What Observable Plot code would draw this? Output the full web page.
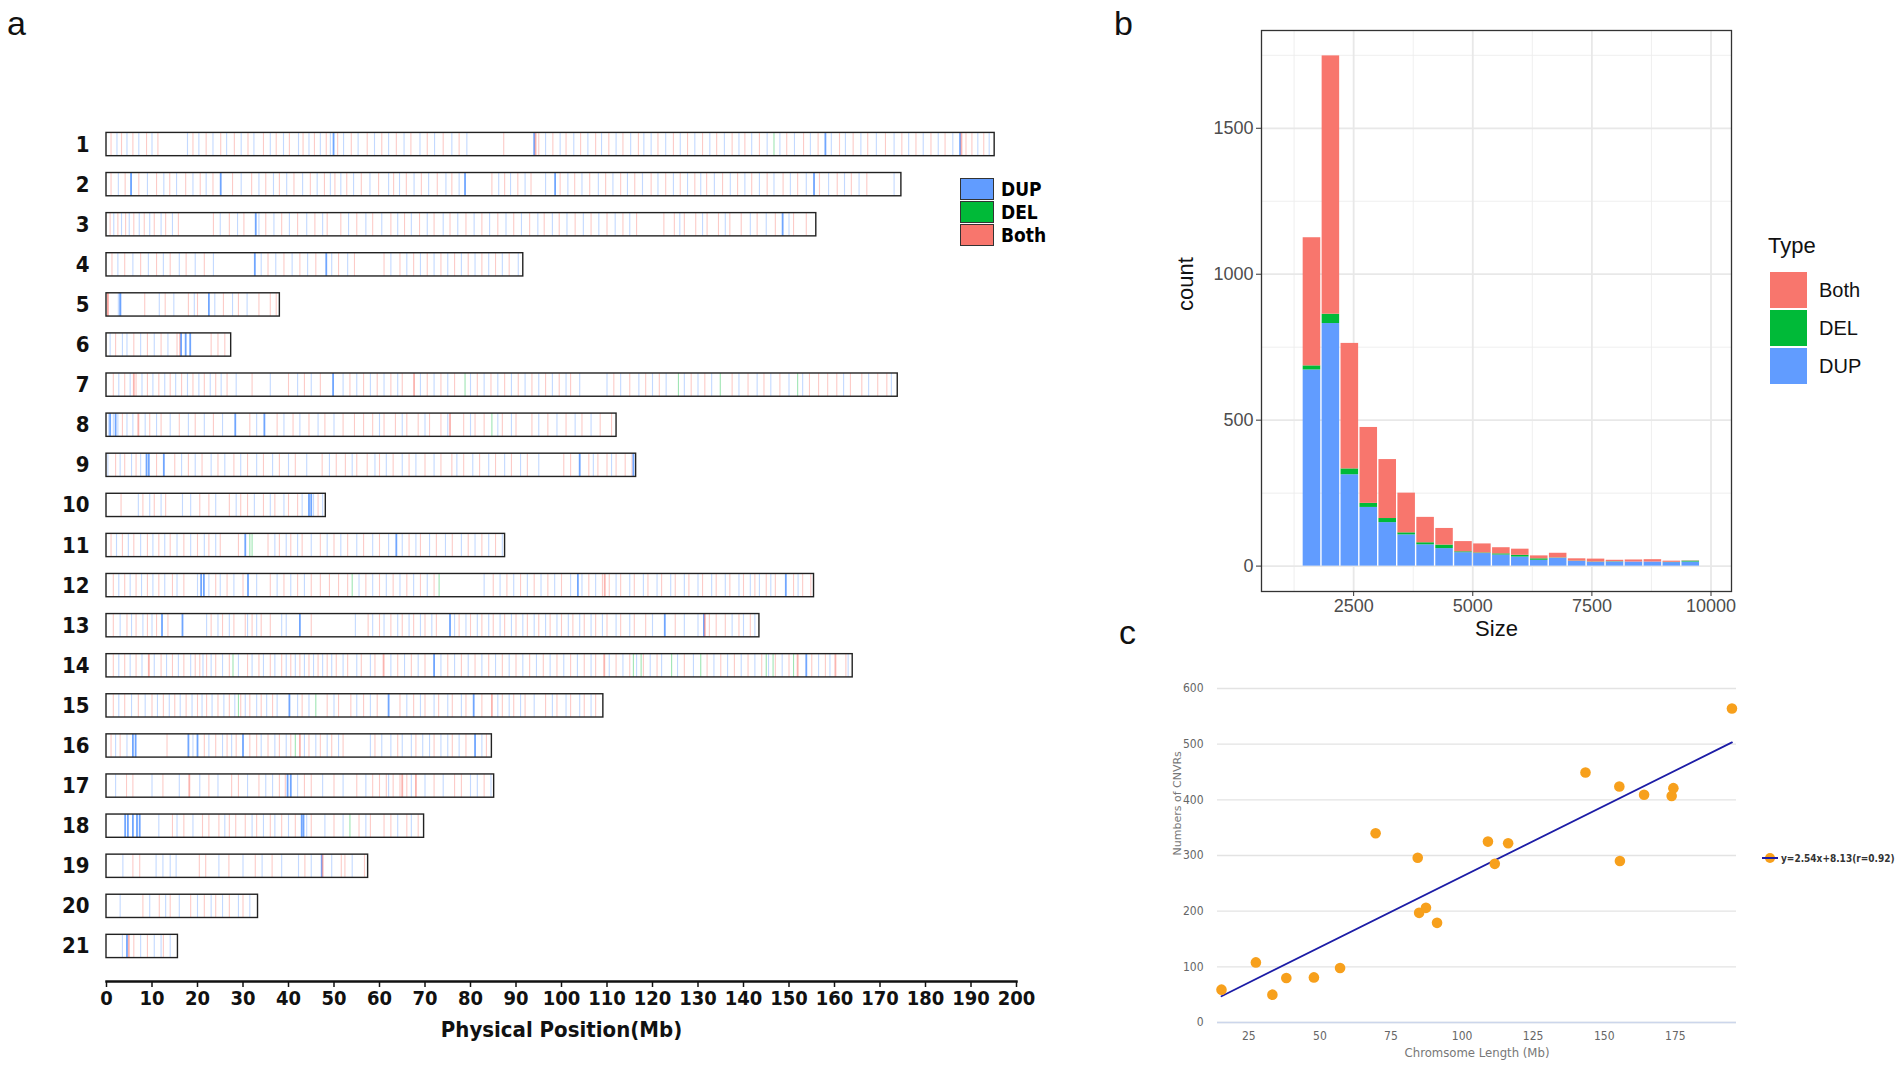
<!DOCTYPE html>
<html>
<head>
<meta charset="utf-8">
<script src="https://cdn.jsdelivr.net/npm/d3@7"></script>
<script src="https://cdn.jsdelivr.net/npm/@observablehq/plot@0.6"></script>
<style>
  body { margin: 0; background: #fff; width: 1902px; height: 1074px; overflow: hidden; position: relative;
         font-family: "Liberation Sans", Arial, sans-serif; }
  .pane { position: absolute; }
  .tag { position: absolute; font-size: 34px; line-height: 34px; color: #111; }
  .lgA { position: absolute; left: 960px; width: 34px; height: 22px; border: 1px solid #333; box-sizing: border-box; }
  .lgAtxt { position: absolute; left: 1001px; font: bold 19px "Liberation Sans Narrow", "DejaVu Sans Condensed", sans-serif; line-height: 22px; }
  .lgB { position: absolute; left: 1770px; width: 37px; height: 36px; }
  .lgBtxt { position: absolute; left: 1819px; font-size: 20px; line-height: 36px; color: #111; }
</style>
</head>
<body>
<div id="panelA" class="pane" style="left:0;top:0"></div>
<div id="panelB" class="pane" style="left:1133px;top:0"></div>
<div id="panelC" class="pane" style="left:1137px;top:656px"></div>
<div class="tag" style="left:7px;top:6px">a</div>
<div class="tag" style="left:1114px;top:6px">b</div>
<div class="tag" style="left:1119px;top:615px">c</div>
<div id="legendA"></div>
<div id="legendB"></div>
<div id="legendC" style="position:absolute;left:1762px;top:851px;display:flex;align-items:center;gap:3px;
     font:bold 10px 'DejaVu Sans Condensed','DejaVu Sans',sans-serif;color:#333;white-space:nowrap"></div>
<script>
// ---------- shared ----------
const typeNames = ["Both", "DEL", "DUP"];
const typeColors = ["#F8766D", "#00BA38", "#619CFF"];
const typeColor = Object.fromEntries(typeNames.map((t, i) => [t, typeColors[i]]));

// ---------- panel a : CNVR map ----------
const chromNames = ["1","2","3","4","5","6","7","8","9","10","11","12","13","14","15","16","17","18","19","20","21"];
const chromLengthMb = [195.2, 174.7, 156.0, 91.6, 38.1, 27.4, 173.9, 112.1, 116.4, 48.2, 87.6,
                       155.5, 143.5, 164.0, 109.2, 84.7, 85.2, 69.8, 57.5, 33.3, 15.7];
const positionTicks = d3.range(0, 201, 10);

// faint stripes, Mb, one list per chromosome
const bothMb = [
  [1.0,3.3,5.8,8.8,11.3,19.0,21.9,25.1,28.1,31.1,34.5,37.3,40.2,43.2,45.7,48.3,50.8,53.8,57.3,60.5,63.7,66.9,70.5,74.0,77.5,87.3,95.0,98.1,101.0,104.2,107.5,110.4,113.5,116.9,121.2,124.6,127.7,131.0,134.1,137.5,140.3,143.5,149.5,153.2,156.4,161.1,164.1,167.3,171.2,174.8,177.9,181.2,184.3,188.9,190.2,192.8],
  [1.0,4.1,7.1,11.0,13.9,17.4,20.6,23.4,27.7,31.9,35.0,38.0,41.2,44.8,47.9,50.2,52.8,56.0,59.8,63.1,65.9,69.2,72.7,75.9,84.7,87.5,90.4,93.3,99.7,102.9,106.2,109.7,113.0,116.1,119.7,122.9,126.1,129.3,131.9,135.4,138.7,141.8,145.2,148.7,151.9,156.7,160.6,163.7,167.1],
  [0.8,2.5,4.2,6.0,8.3,10.5,13.0,15.8,23.5,27.0,30.2,35.0,38.5,42.0,45.8,48.5,51.5,55.0,58.5,62.5,65.5,68.8,72.0,75.5,79.0,82.5,86.0,89.5,93.0,96.2,99.5,103.0,106.5,110.0,113.5,116.5,122.5,124.8,127.0,129.5,132.0,134.5,137.0,139.5,143.0,147.0,151.0,153.8],
  [1.2,4.0,7.5,11.0,14.0,17.5,21.5,35.5,39.0,42.5,46.0,51.0,54.5,61.0,64.5,67.5,70.5,73.5,76.5,79.5,82.5,85.5,88.5],
  [0.3,8.4,12.9,18.0,20.0,25.7,29.0,33.5,36.0,37.3],
  [2.0,6.0,9.0,12.0,15.5,23.0,24.5,26.0],
  [1.5,4.0,6.5,9.0,11.5,14.0,16.5,19.0,21.5,24.0,26.5,32.0,40.0,43.5,47.0,53.5,56.5,59.5,62.5,65.0,70.5,73.5,76.5,81.5,84.5,87.5,90.5,93.5,96.5,99.5,102.0,111.5,115.0,118.5,121.5,128.5,131.5,137.5,141.0,144.5,148.0,154.5,156.5,158.5,160.5,163.5,166.0,169.5,171.5],
  [3.5,9.5,12.0,16.0,19.5,23.5,31.5,37.5,41.0,44.5,48.0,52.0,54.5,56.5,58.5,61.0,63.5,66.0,68.5,71.0,73.5,78.5,81.0,83.0,87.0,90.0,93.5,97.0,101.0,104.5,108.5,111.0],
  [2.0,4.0,6.5,11.0,15.0,18.0,21.0,24.5,28.0,31.0,34.5,38.0,41.5,47.4,50.5,52.5,55.0,57.3,60.0,63.0,66.5,70.0,73.5,75.9,78.5,82.0,85.5,89.0,92.5,100.5,102.0,106.0,108.0,110.0,112.0,114.0,115.5],
  [3.2,8.0,10.5,13.0,20.5,22.5,27.0,29.5,31.0,34.5,37.0,40.0,42.0,46.5],
  [1.0,3.5,6.0,9.0,11.5,14.0,17.0,20.0,22.5,25.0,29.0,35.5,38.0,40.5,43.0,47.0,50.0,53.0,56.5,60.0,66.5,69.0,72.5,76.0,79.5,82.5,85.5],
  [1.5,4.0,6.5,9.0,11.5,14.5,17.0,24.0,26.5,30.0,36.0,39.0,42.0,45.0,47.0,49.0,51.0,53.0,57.0,60.0,63.0,66.0,69.0,72.0,85.0,88.0,91.0,94.0,97.0,100.0,106.0,109.0,110.5,113.0,116.0,119.0,122.0,125.0,128.0,131.0,134.0,137.0,140.0,142.5,145.0,147.0,151.0,153.0,154.8],
  [1.5,4.5,6.5,9.0,11.0,13.5,23.0,25.5,28.0,30.5,32.0,34.0,36.0,45.0,57.5,60.0,62.5,65.0,67.5,70.0,72.5,77.5,80.0,82.5,85.0,87.5,90.0,92.5,95.0,97.5,100.0,102.5,105.0,107.5,110.0,113.0,116.0,118.5,125.0,132.5,134.0,136.0,139.0,141.5],
  [1.5,4.0,6.5,12.0,14.5,17.0,19.5,20.5,22.0,24.0,27.0,31.0,33.5,36.0,38.5,40.5,42.5,44.5,46.5,48.5,50.5,53.0,56.0,59.0,64.0,67.0,70.0,75.0,78.0,81.0,84.0,87.0,90.0,93.0,96.0,99.0,102.0,105.0,107.5,112.0,115.0,118.0,121.0,127.0,132.0,135.0,138.0,141.0,144.0,147.0,150.0,155.0,158.0,162.5],
  [1.5,4.0,7.0,10.0,12.5,15.0,17.5,20.0,22.0,24.5,27.0,29.5,31.5,34.0,36.5,43.0,48.5,51.0,53.7,56.5,59.5,64.5,67.5,70.0,73.0,76.0,79.0,82.5,87.0,89.5,92.0,96.5,99.0,102.0,105.0,107.5],
  [1.0,3.0,13.3,21.5,24.0,26.5,28.5,31.5,33.0,35.5,38.0,40.5,44.5,47.0,49.5,52.0,59.0,64.0,68.0,72.0,76.0,79.0,83.5],
  [4.4,5.8,12.4,22.5,27.5,29.0,33.5,38.0,39.3,43.5,45.0,50.0,55.0,58.5,60.0,61.5,63.0,64.5,66.0,72.0,76.5,78.0,83.0],
  [14.5,17.0,21.1,22.5,24.7,27.0,28.4,30.5,33.0,36.0,38.5,41.5,45.0,50.0,55.5,58.0,61.0,62.5,66.0,68.5],
  [5.8,7.3,20.4,21.8,26.9,32.7,36.4,43.6,51.6,52.4,56.7],
  [8.0,11.6,14.0,18.5,21.5,24.0,27.0,30.0],
  [6.0,9.0,12.5]
];
const dupMb = [
  [2.3,4.5,7.1,10.0,17.8,20.3,23.4,26.4,29.6,32.4,36.0,38.9,42.2,44.5,47.0,49.2,52.1,55.3,58.9,62.0,65.4,68.9,72.1,75.9,79.2,96.5,99.7,102.7,105.8,108.8,112.0,115.2,118.1,119.7,122.9,126.1,129.3,132.6,135.8,139.0,141.8,145.2,148.0,151.2,154.7,159.3,162.4,165.8,169.2,173.1,176.3,179.5,182.8,186.0,191.5,194.0],
  [2.6,5.4,9.0,12.6,15.4,19.0,21.9,29.6,33.5,36.7,39.6,43.1,46.3,49.2,51.5,54.3,57.9,62.0,64.4,67.6,70.8,74.6,77.5,86.2,88.8,92.0,96.5,101.4,104.5,108.1,111.3,114.5,117.8,121.2,124.6,127.7,130.6,133.6,137.1,140.3,143.5,146.7,150.3,153.8,158.7,162.2,165.4,173.1],
  [1.6,3.3,5.0,7.2,9.5,12.0,14.5,25.0,28.8,33.5,36.8,40.2,44.0,47.5,53.2,57.0,60.5,64.0,67.0,70.5,74.0,77.2,80.8,84.2,87.8,91.2,94.8,98.0,101.2,104.8,108.2,111.8,115.0,126.0,131.0,136.0,141.5,145.0,150.0],
  [2.5,5.8,9.2,12.5,16.0,19.5,23.5,34.0,37.2,40.8,44.2,49.5,53.0,62.5,66.0,69.0,72.0,75.0,78.0,81.0,84.0,87.0,90.5],
  [2.6,3.2,11.6,14.8,19.3,23.8,27.7,30.9],
  [0.8,3.5,4.5,7.5,10.5,13.5],
  [2.7,5.2,7.8,10.2,12.8,15.2,17.8,20.3,22.8,25.2,28.5,36.0,42.0,45.0,52.0,55.0,58.0,61.0,64.0,69.0,72.0,75.0,80.0,83.0,86.0,89.0,92.0,95.0,98.0,101.0,104.0,110.0,113.0,117.0,120.0,123.0,127.0,130.0,133.0,139.0,143.0,146.0,150.0,153.0,162.0,167.5,172.5],
  [0.5,1.5,2.5,4.5,5.8,8.5,11.0,14.0,18.0,21.5,25.5,33.0,39.0,42.5,46.5,50.0,60.0,65.0,70.0,75.0,80.0,86.0,89.0,95.0,99.0,103.0,106.5],
  [0.3,3.0,5.5,7.5,16.5,19.5,23.0,26.0,29.5,33.0,36.5,40.0,44.0,49.0,54.0,59.0,61.5,65.0,68.0,72.0,77.0,80.5,84.0,87.5,91.0,95.0,107.0,111.0],
  [7.0,9.5,12.0,16.7,18.5,24.0,28.5,32.5,36.0,39.0,43.0,45.5,47.5],
  [2.2,4.8,7.5,10.2,12.8,15.5,18.5,21.5,24.0,37.0,39.5,42.0,45.0,48.5,51.5,55.0,58.5,62.0,65.0,68.0,71.0,74.5,78.0,81.0,84.0,87.0],
  [2.7,5.2,7.7,10.2,12.8,15.5,20.0,22.5,25.0,28.0,33.0,37.5,40.5,43.5,55.5,58.5,61.5,64.5,67.5,70.5,83.0,86.5,89.5,92.5,95.5,98.5,102.0,104.5,107.5,112.0,115.0,118.0,121.0,124.0,127.0,130.0,133.0,136.0,139.0,141.5,143.5,146.0,152.0],
  [3.0,5.5,8.0,10.0,22.0,24.5,27.0,31.0,33.0,38.5,39.5,54.7,58.5,61.0,64.0,66.5,69.0,71.5,76.5,79.0,81.5,84.0,86.5,89.0,91.5,94.0,96.5,99.0,101.5,104.0,106.5,109.0,112.0,115.0,120.0,127.0,130.0,137.5,140.0,142.5],
  [2.7,5.2,7.8,10.5,13.2,15.8,18.5,21.2,23.0,25.5,29.0,32.0,34.5,37.0,39.5,41.5,43.5,45.5,47.5,49.5,52.0,55.0,58.0,62.5,65.5,68.5,73.5,76.5,79.5,82.5,85.5,88.5,91.5,94.5,97.5,100.5,103.5,106.5,110.5,113.5,116.5,119.5,122.0,125.5,129.0,133.5,136.5,139.5,142.5,145.5,148.5,156.5,159.0,163.0],
  [2.7,5.5,8.5,11.2,13.8,16.2,18.8,21.0,23.2,25.8,28.2,30.5,33.0,35.2,37.5,42.0,44.5,50.0,55.0,58.0,66.0,69.0,72.0,75.0,78.0,86.0,88.5,91.0,94.0,98.0,101.0,104.0,106.5],
  [2.0,4.5,19.0,22.5,25.5,27.5,34.0,37.0,39.5,43.5,46.0,48.5,51.0,58.0,60.5,62.5,65.0,67.0,69.5,71.0,73.5,75.0,77.5,82.5],
  [2.0,10.0,16.0,20.5,24.5,31.0,35.0,36.5,42.0,47.5,52.0,57.0,62.0,67.0,70.0,74.0,80.0,81.5,84.5],
  [11.5,15.5,19.0,26.0,32.0,34.5,37.0,40.0,44.0,48.0,52.0,57.0,64.0,67.0],
  [3.6,10.9,12.4,14.0,15.3,24.7,30.0,34.2,38.5,42.2,45.0,49.5,54.0],
  [3.0,9.5,13.0,16.0,20.0,23.0,25.5,29.0,31.5],
  [3.5,7.5,10.5,12.0,14.0]
];
const delMb = [
  [146.7], [], [], [], [], [], [78.8,125.7,134.9,151.9], [84.7], [], [], [31.5,32.0],
  [54.0,73.1], [], [27.8,115.8,117.5,124.2,130.6,145.0,146.5,151.0], [29.0,46.0], [41.5], [], [53.5], [], [], []
];
// prominent (dense / overlapping) CNVRs: [chromosome, Mb, type]
const strongCnv = [
  [1,49.9,"DUP"],[1,94.0,"DUP"],[1,94.3,"Both"],[1,158.0,"DUP"],[1,187.6,"DUP"],[1,187.9,"Both"],
  [2,5.4,"DUP"],[2,25.1,"DUP"],[2,78.8,"DUP"],[2,98.6,"DUP"],[2,155.5,"DUP"],
  [3,32.8,"DUP"],[3,148.6,"DUP"],
  [4,32.6,"DUP"],[4,48.3,"DUP"],
  [5,3.0,"DUP"],[5,22.5,"DUP"],[5,0.3,"Both"],
  [6,16.2,"Both"],[6,16.4,"DUP"],[6,17.4,"DUP"],[6,18.4,"DUP"],
  [7,49.8,"DUP"],[7,67.6,"Both"],[7,6.0,"Both"],
  [8,0.8,"DUP"],[8,2.0,"DUP"],[8,7.0,"Both"],[8,28.3,"DUP"],[8,34.7,"DUP"],[8,75.5,"Both"],
  [9,8.8,"DUP"],[9,9.3,"DUP"],[9,12.6,"DUP"],[9,104.0,"DUP"],[9,115.8,"DUP"],
  [10,44.5,"DUP"],[10,45.0,"DUP"],
  [11,30.5,"DUP"],[11,63.7,"DUP"],
  [12,20.8,"DUP"],[12,21.4,"DUP"],[12,31.1,"DUP"],[12,103.6,"DUP"],[12,109.5,"Both"],[12,149.3,"DUP"],
  [13,12.2,"DUP"],[13,16.7,"DUP"],[13,42.5,"DUP"],[13,75.5,"DUP"],[13,122.7,"DUP"],[13,131.3,"DUP"],[13,131.5,"Both"],
  [14,9.3,"Both"],[14,60.9,"Both"],[14,72.0,"DUP"],[14,109.4,"Both"],[14,151.9,"Both"],[14,153.8,"DUP"],[14,160.2,"Both"],
  [15,40.2,"DUP"],[15,62.0,"DUP"],[15,80.7,"DUP"],[15,84.7,"Both"],
  [16,5.8,"DUP"],[16,6.4,"DUP"],[16,18.0,"DUP"],[16,20.0,"DUP"],[16,30.0,"DUP"],[16,42.5,"Both"],[16,81.0,"DUP"],
  [17,18.2,"Both"],[17,39.8,"DUP"],[17,40.5,"DUP"],[17,65.0,"Both"],[17,68.0,"Both"],
  [18,4.1,"DUP"],[18,4.7,"DUP"],[18,5.8,"DUP"],[18,6.7,"DUP"],[18,7.3,"DUP"],[18,42.9,"DUP"],[18,43.3,"DUP"],
  [19,47.3,"DUP"],[19,47.5,"Both"],
  [21,4.5,"DUP"],[21,4.9,"Both"]
];

const stripes = [];
[["Both", bothMb], ["DUP", dupMb], ["DEL", delMb]].forEach(([type, lists]) =>
  lists.forEach((list, i) => list.forEach(mb => stripes.push({chr: i + 1, mb, type}))));
const strong = strongCnv.map(([chr, mb, type]) => ({chr, mb, type}));

const narrow = '"Liberation Sans Narrow", "DejaVu Sans Condensed", sans-serif';
const half = 0.29;

const plotA = Plot.plot({
  width: 1060, height: 1074,
  marginLeft: 106, marginRight: 44, marginTop: 124, marginBottom: 93,
  style: {fontFamily: narrow, color: "#111"},
  x: {domain: [0, 200], axis: null},
  y: {domain: [0.5, 21.5], range: [124, 966], axis: null},
  color: {domain: typeNames, range: typeColors},
  marks: [
    Plot.ruleX(stripes, {x: "mb", y1: d => d.chr - half, y2: d => d.chr + half, stroke: "type", strokeWidth: 1.1, strokeOpacity: 0.38}),
    Plot.ruleX(strong, {x: "mb", y1: d => d.chr - half, y2: d => d.chr + half, stroke: "type", strokeWidth: 1.8,
      strokeOpacity: d => d.type === "Both" ? 0.55 : 0.9}),
    Plot.rect(chromNames, {x1: 0, x2: (d, i) => chromLengthMb[i], y1: (d, i) => i + 1 - half, y2: (d, i) => i + 1 + half,
      fill: "none", stroke: "#222", strokeWidth: 1.4}),
    Plot.text(chromNames, {x: 0, y: (d, i) => i + 1, text: d => d, textAnchor: "end", dx: -17, fontSize: 22, fontWeight: "bold"}),
    Plot.frame({anchor: "bottom", strokeWidth: 2.4}),
    Plot.axisX(positionTicks, {tickSize: 6, strokeWidth: 1.5, tickPadding: 3, fontSize: 20, fontWeight: "bold", label: null}),
    Plot.text(["Physical Position(Mb)"], {frameAnchor: "bottom", dy: 55, fontSize: 22, fontWeight: "bold"})
  ]
});
document.getElementById("panelA").append(plotA);

const legA = ["DUP", "DEL", "Both"];
legA.forEach((t, i) => {
  const box = document.createElement("div");
  box.className = "lgA";
  box.style.top = (178 + i * 23) + "px";
  box.style.background = typeColor[t];
  const lab = document.createElement("div");
  lab.className = "lgAtxt";
  lab.style.top = (178 + i * 23) + "px";
  lab.textContent = t;
  document.getElementById("legendA").append(box, lab);
});

// ---------- panel b : size histogram ----------
const binEdges = [1426,1824,2221,2619,3016,3414,3811,4209,4606,5004,5401,5799,6196,6594,6991,7389,7786,8184,8581,8979,9376,9774];
const dupCount  = [672, 831, 313, 201, 149, 107, 73, 60, 46, 43, 38, 31, 20, 27, 16, 13, 14, 14, 14, 12, 14];
const delCount  = [14, 32, 20, 14, 14, 7, 7, 12, 3, 2, 4, 6, 5, 1, 1, 1, 1, 0, 0, 1, 3];
const bothCount = [439, 885, 430, 260, 202, 136, 87, 57, 35, 31, 21, 21, 10, 16, 8, 10, 5, 7, 8, 4, 1];
const sizeTicks = [2500, 5000, 7500, 10000];
const sizeMinor = [1250, 3750, 6250, 8750];
const countTicks = [0, 500, 1000, 1500];
const countMinor = [250, 750, 1250, 1750];

const bars = [];
[["DUP", dupCount], ["DEL", delCount], ["Both", bothCount]].forEach(([type, counts]) =>
  counts.forEach((count, i) => bars.push({x1: binEdges[i], x2: binEdges[i + 1], count, type})));

const plotB = Plot.plot({
  width: 620, height: 660,
  marginLeft: 128, marginRight: 22, marginTop: 30, marginBottom: 69,
  style: {fontFamily: '"Liberation Sans", Arial, sans-serif'},
  x: {domain: [566, 10430], axis: null},
  y: {domain: [-87, 1835], axis: null},
  color: {domain: typeNames, range: typeColors},
  marks: [
    Plot.gridX(sizeMinor, {stroke: "#ededed", strokeOpacity: 1, strokeWidth: 0.9}),
    Plot.gridY(countMinor, {stroke: "#ededed", strokeOpacity: 1, strokeWidth: 0.9}),
    Plot.gridX(sizeTicks, {stroke: "#e8e8e8", strokeOpacity: 1, strokeWidth: 1.8}),
    Plot.gridY(countTicks, {stroke: "#e8e8e8", strokeOpacity: 1, strokeWidth: 1.8}),
    Plot.rectY(bars, {x1: "x1", x2: "x2", y: "count", fill: "type", order: ["DUP", "DEL", "Both"], insetLeft: 0.7, insetRight: 0.7}),
    Plot.frame({stroke: "#333", strokeWidth: 1.3}),
    Plot.axisX(sizeTicks, {tickSize: 5, stroke: "#333", fill: "#4d4d4d", fontSize: 18, tickPadding: 3, tickFormat: d => String(d), label: null}),
    Plot.axisY(countTicks, {tickSize: 5, stroke: "#333", fill: "#4d4d4d", fontSize: 18, tickPadding: 3, tickFormat: d => String(d), label: null}),
    Plot.text(["count"], {frameAnchor: "left", dx: -76, rotate: -90, fontSize: 22, fill: "#111"}),
    Plot.text(["Size"], {frameAnchor: "bottom", dy: 44, fontSize: 22, fill: "#111"})
  ]
});
document.getElementById("panelB").append(plotB);

const legB = document.getElementById("legendB");
const typeTitle = document.createElement("div");
typeTitle.className = "lgBtxt";
typeTitle.style.cssText = "left:1768px;top:228px;font-size:22px";
typeTitle.textContent = "Type";
legB.append(typeTitle);
typeNames.forEach((t, i) => {
  const box = document.createElement("div");
  box.className = "lgB";
  box.style.top = (272 + i * 38) + "px";
  box.style.background = typeColor[t];
  const lab = document.createElement("div");
  lab.className = "lgBtxt";
  lab.style.top = (272 + i * 38) + "px";
  lab.textContent = t;
  legB.append(box, lab);
});

// ---------- panel c : CNVR count vs chromosome length ----------
const lengthMb = [15.4, 27.5, 33.3, 38.2, 47.9, 57.1, 69.6, 84.4, 84.9, 87.3, 91.2, 109.1, 111.5, 116.2, 143.4, 155.3, 155.5, 164.0, 173.7, 174.3, 194.9];
const cnvrCount = [59, 108, 50, 80, 81, 98, 340, 296, 197, 206, 179, 325, 285, 322, 449, 424, 290, 409, 407, 421, 564];
const fitSlope = 2.54, fitIntercept = 8.13;
const fitLabel = "y=2.54x+8.13(r=0.92)";
const lengthTicks = [25, 50, 75, 100, 125, 150, 175];
const cnvrTicks = [0, 100, 200, 300, 400, 500, 600];
const points = lengthMb.map((x, i) => ({x, y: cnvrCount[i]}));
const fitLine = d3.extent(lengthMb).map(x => ({x, y: fitSlope * x + fitIntercept}));
const lineColor = "#1c1ca6", dotColor = "#f7a01c";

const plotC = Plot.plot({
  width: 765, height: 414,
  marginLeft: 80, marginRight: 166, marginTop: 32, marginBottom: 48,
  style: {fontFamily: narrow},
  x: {domain: [14, 196.5], axis: null},
  y: {domain: [0, 600], axis: null},
  marks: [
    Plot.gridY(cnvrTicks, {stroke: "#e3e3e3", strokeOpacity: 1, strokeWidth: 1.3}),
    Plot.ruleY([0], {stroke: "#ccd6eb", strokeWidth: 1.3}),
    Plot.line(fitLine, {x: "x", y: "y", stroke: lineColor, strokeWidth: 1.8}),
    Plot.dot(points, {x: "x", y: "y", r: 5.3, fill: dotColor}),
    Plot.axisX(lengthTicks, {tickSize: 0, tickPadding: 9, fontSize: 12, fill: "#666", label: null}),
    Plot.axisY(cnvrTicks, {tickSize: 0, tickPadding: 14, fontSize: 12, fill: "#666", label: null}),
    Plot.text(["Numbers of CNVRs"], {frameAnchor: "left", dx: -40, rotate: -90, fontSize: 11, fill: "#777",
      fontFamily: '"DejaVu Sans", sans-serif'}),
    Plot.text(["Chromsome Length (Mb)"], {frameAnchor: "bottom", dy: 34, fontSize: 13, fill: "#777"})
  ]
});
document.getElementById("panelC").append(plotC);

const legC = document.getElementById("legendC");
legC.innerHTML = `<svg width="16" height="14"><circle cx="8" cy="7" r="5" fill="${dotColor}"/>` +
  `<line x1="0" y1="7" x2="16" y2="7" stroke="${lineColor}" stroke-width="2"/></svg><span>${fitLabel}</span>`;
</script>
</body>
</html>
